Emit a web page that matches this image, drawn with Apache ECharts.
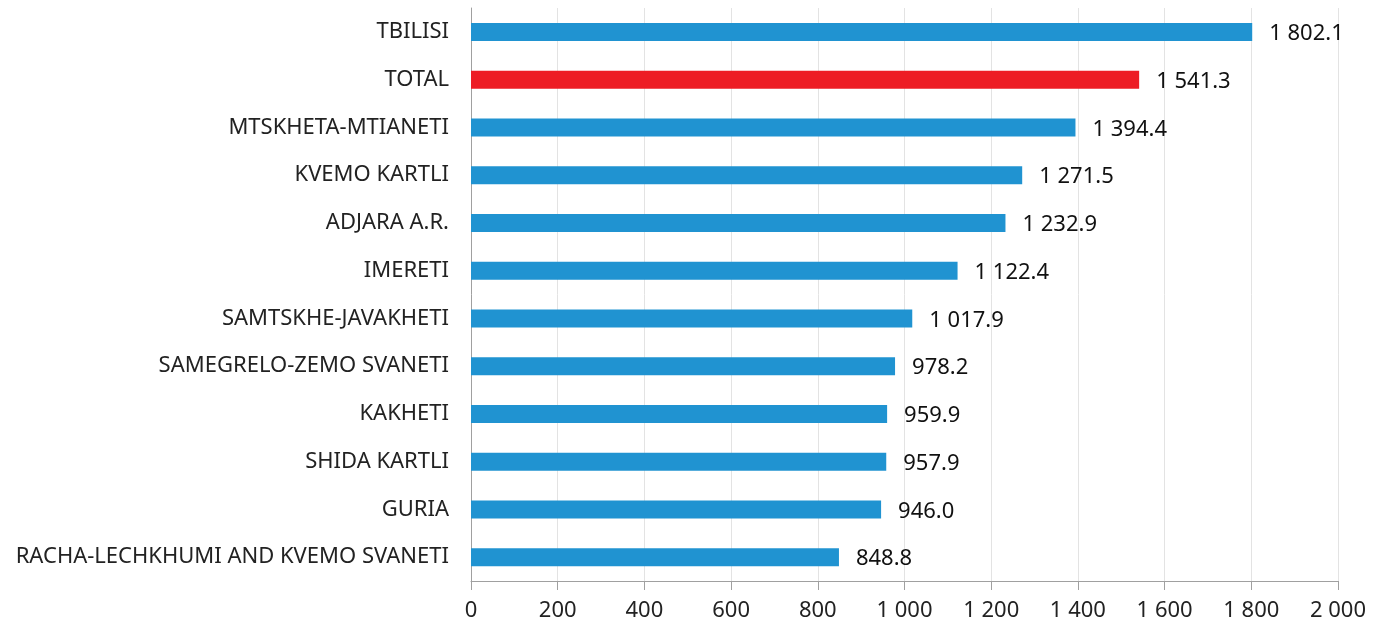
<!DOCTYPE html>
<html>
<head>
<meta charset="utf-8">
<script src="https://cdn.jsdelivr.net/npm/echarts@6/dist/echarts.min.js"></script>
<style>
  html, body { margin: 0; padding: 0; background: #fff; }
  #chart { width: 1387px; height: 626px; }
</style>
</head>
<body>
<div id="chart"></div>
<script>
// regions, top to bottom as in the picture
var regions = [
    "TBILISI",
    "TOTAL",
    "MTSKHETA-MTIANETI",
    "KVEMO KARTLI",
    "ADJARA A.R.",
    "IMERETI",
    "SAMTSKHE-JAVAKHETI",
    "SAMEGRELO-ZEMO SVANETI",
    "KAKHETI",
    "SHIDA KARTLI",
    "GURIA",
    "RACHA-LECHKHUMI AND KVEMO SVANETI"
];
var values = [1802.1, 1541.3, 1394.4, 1271.5, 1232.9, 1122.4, 1017.9, 978.2, 959.9, 957.9, 946.0, 848.8];
var highlight = "TOTAL";

var FONT = "Noto Sans";

// 1802.1 -> "1 802.1"
function spaced(n, digits) {
    var s = n.toFixed(digits);
    var parts = s.split(".");
    parts[0] = parts[0].replace(/\B(?=(\d{3})+(?!\d))/g, " ");
    return parts.join(".");
}

var myChart = echarts.init(document.getElementById("chart"));

var option = {
    animation: false,
    grid: {
        left: 471,
        right: 49,
        top: 8,
        bottom: 45,
        containLabel: false
    },
    xAxis: {
        type: "value",
        min: 0,
        max: 2000,
        interval: 200,
        axisLine: { show: true, lineStyle: { color: "#a0a0a0", width: 1 } },
        axisTick: { show: true, length: 9, lineStyle: { color: "#a0a0a0" } },
        splitLine: { show: true, lineStyle: { color: "#e3e3e3", width: 1 } },
        axisLabel: {
            color: "#222",
            fontFamily: FONT,
            fontSize: 22,
            margin: 19,
            formatter: function (v) { return spaced(v, 0); }
        }
    },
    yAxis: {
        type: "category",
        inverse: true,
        data: regions,
        axisLine: { show: true, lineStyle: { color: "#a0a0a0" } },
        axisTick: { show: false },
        axisLabel: {
            color: "#222",
            fontFamily: FONT,
            fontSize: 22,
            margin: 22
        }
    },
    series: [
        {
            type: "bar",
            barWidth: 18,
            data: values.map(function (v, i) {
                return {
                    value: v,
                    itemStyle: { color: regions[i] === highlight ? "#ed1c24" : "#2093d1" }
                };
            }),
            label: {
                show: true,
                position: "right",
                distance: 17,
                offset: [0, 2],
                color: "#111",
                fontFamily: FONT,
                fontSize: 22,
                formatter: function (p) { return spaced(p.value, 1); }
            }
        }
    ]
};

myChart.setOption(option);
</script>
</body>
</html>
